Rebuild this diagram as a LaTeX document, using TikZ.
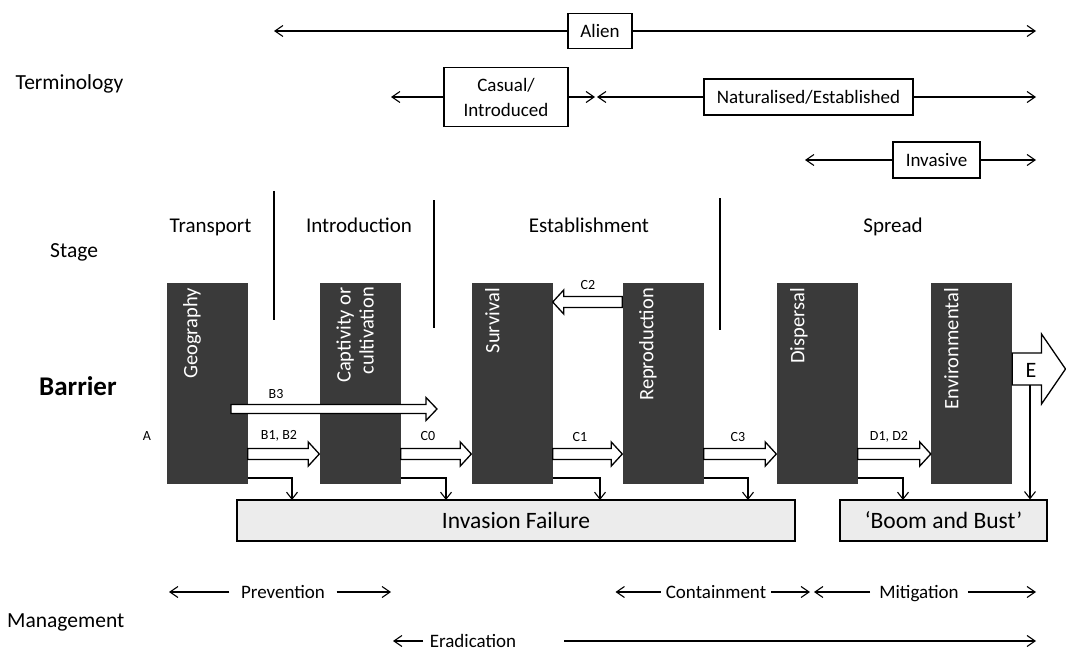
\documentclass[tikz,border=0pt]{standalone}
\usepackage{fontspec}
\setmainfont{Carlito}
\usetikzlibrary{arrows.meta,calc}
\definecolor{barfill}{RGB}{58,58,58}
\definecolor{failfill}{RGB}{236,236,236}
\newcommand\fs[2]{\fontsize{#1}{#2}\selectfont}
% hollow block arrow: #1 start, #2 tip, #3 signed head length, #4 body half, #5 head half
\newcommand\harrow[5]{%
  \draw[hollow] let \p1=(#1), \p2=(#2) in
    (\x1,{\y1+#4pt}) -- ({\x2-(#3pt)},{\y1+#4pt}) -- ({\x2-(#3pt)},{\y2+#5pt})
    -- (\x2,\y2) -- ({\x2-(#3pt)},{\y2-#5pt}) -- ({\x2-(#3pt)},{\y1-#4pt})
    -- (\x1,{\y1-#4pt}) -- cycle;}
\begin{document}
\begin{tikzpicture}[x=1pt,y=-1pt,
  rowlab/.style={inner sep=0pt, anchor=base west, font=\fs{21.5}{26}},
  term/.style={draw, line width=1.2pt, inner sep=0pt, font=\fs{19}{25}, align=center},
  tarr/.style={line width=1.1pt, -{Straight Barb[length=8pt,width=11pt,line width=1.1pt]}},
  stagel/.style={inner sep=0pt, anchor=base, font=\fs{21}{25}},
  divider/.style={line width=1.3pt},
  barrier/.style={fill=barfill, draw=none, minimum width=81pt, minimum height=201pt, inner sep=0pt},
  bartext/.style={text=white, rotate=90, inner sep=0pt, font=\fs{20.5}{23}, align=right},
  hollow/.style={draw, fill=white, line width=1.3pt, line join=miter},
  alab/.style={inner sep=0pt, font=\fs{14}{16}},
  darr/.style={line width=1.1pt, -{Straight Barb[length=7pt,width=11pt,line width=1.1pt]}},
  outbox/.style={draw, fill=failfill, line width=1.2pt, inner sep=0pt, font=\fs{23.5}{28}},
  mgmt/.style={inner sep=0pt, anchor=base, font=\fs{19}{23}},
]
\fill[white] (0,0) rectangle (1066,650);
\useasboundingbox (0,0) rectangle (1066,650);

% ---------- row labels ----------
\node[rowlab] (tTerm) at (15.5,90) {Terminology};
\node[rowlab] (tStage) at (50,257) {Stage};
\node[rowlab, font=\fs{27}{30}\bfseries] (tBarrier) at (39,395) {Barrier};
\node[rowlab] (tMan) at (7,627) {Management};

% ---------- terminology ----------
\node[term, minimum width=64pt, minimum height=35pt] (alien) at (600,31) {Alien};
\node[term, minimum width=124pt, minimum height=59pt] (casual) at (506,97) {Casual/\\Introduced};
\node[term, minimum width=209pt, minimum height=36pt] (nat) at (808.5,97) {Naturalised/Established};
\node[term, minimum width=87pt, minimum height=36pt] (inv) at (936.5,160) {Invasive};
\coordinate (alienL) at (274,31);
\coordinate (alienR) at (1036,31);
\coordinate (casL) at (391,97);
\coordinate (casR) at (595,97);
\coordinate (natL) at (597,97);
\coordinate (natR) at (1036,97);
\coordinate (invL) at (805,160);
\coordinate (invR) at (1036,160);
\draw[tarr] (alien.west) -- (alienL);
\draw[tarr] (alien.east) -- (alienR);
\draw[tarr] (casual.west) -- (casL);
\draw[tarr] (casual.east) -- (casR);
\draw[tarr] (nat.west) -- (natL);
\draw[tarr] (nat.east) -- (natR);
\draw[tarr] (inv.west) -- (invL);
\draw[tarr] (inv.east) -- (invR);

% ---------- stages ----------
\node[stagel] (sTrans) at (210.5,232) {Transport};
\node[stagel] (sIntro) at (359,232) {Introduction};
\node[stagel] (sEst) at (589,232) {Establishment};
\node[stagel] (sSpread) at (893,232) {Spread};
\coordinate (dv1t) at (274,191); \coordinate (dv1b) at (274,320);
\coordinate (dv2t) at (434,200); \coordinate (dv2b) at (434,328);
\coordinate (dv3t) at (720,198); \coordinate (dv3b) at (720,330);
\draw[divider] (dv1t) -- (dv1b);
\draw[divider] (dv2t) -- (dv2b);
\draw[divider] (dv3t) -- (dv3b);

% ---------- barriers ----------
\node[barrier] (geo)  at (207,383.5) {};
\node[barrier] (cap)  at (360,383.5) {};
\node[barrier] (surv) at (512,383.5) {};
\node[barrier] (repr) at (663,383.5) {};
\node[barrier] (disp) at (817,383.5) {};
\node[barrier] (env)  at (971.5,383.5) {};
\node[bartext, anchor=mid east] (geoT) at (195,288) {Geography};
\node[bartext, anchor=east] (capT) at (355,287) {Captivity or\\cultivation};
\node[bartext, anchor=mid east] (survT) at (497,288) {Survival};
\node[bartext, anchor=mid east] (reprT) at (651,288) {Reproduction};
\node[bartext, anchor=mid east] (dispT) at (802,288) {Dispersal};
\node[bartext, anchor=mid east] (envT) at (956,288) {Environmental};

\node[alab] (lA) at (147,436) {A};

% ---------- transition arrows ----------
\coordinate (rowB) at (0,454);
\coordinate (rowC) at (0,302);
\coordinate (rowE) at (0,369);
\coordinate (b3s) at (231,409);
\coordinate (b3e) at (437,409);
\coordinate (eTip) at (1065.5,369);
\harrow{b3s}{b3e}{11}{4.5}{11.5}
\harrow{geo.east |- rowB}{cap.west |- rowB}{11}{5.5}{12}
\harrow{cap.east |- rowB}{surv.west |- rowB}{11}{5.5}{12}
\harrow{surv.east |- rowB}{repr.west |- rowB}{11}{5.5}{12}
\harrow{repr.east |- rowB}{disp.west |- rowB}{11}{5.5}{12}
\harrow{disp.east |- rowB}{env.west |- rowB}{11}{5.5}{12}
\harrow{repr.west |- rowC}{surv.east |- rowC}{-11}{5.5}{12}
\harrow{env.east |- rowE}{eTip}{24}{16}{35}

\node[alab] (lB3) at (276,394) {B3};
\node[alab] (lB12) at (279,436) {B1, B2};
\node[alab] (lC0) at (428,436) {C0};
\node[alab] (lC1) at (580,437) {C1};
\node[alab] (lC2) at (588,285) {C2};
\node[alab] (lC3) at (738,437) {C3};
\node[alab] (lD12) at (889,437) {D1, D2};
\node[inner sep=0pt, font=\fs{22}{24}] (lE) at (1031,370) {E};

% ---------- outcome boxes ----------
\node[outbox, minimum width=558pt, minimum height=41pt] (fail) at (516,520.5) {Invasion Failure};
\node[outbox, minimum width=207pt, minimum height=41pt] (boom) at (943.5,520.5) {`Boom and Bust'};

\coordinate (rowF) at (0,478);
\coordinate (d1) at (292,500);
\coordinate (d2) at (446,500);
\coordinate (d3) at (600,500);
\coordinate (d4) at (748,500);
\coordinate (d5) at (903,500);
\coordinate (eDrop) at (1030,385);
\draw[darr] (geo.east |- rowF) -| (d1);
\draw[darr] (cap.east |- rowF) -| (d2);
\draw[darr] (surv.east |- rowF) -| (d3);
\draw[darr] (repr.east |- rowF) -| (d4);
\draw[darr] (disp.east |- rowF) -| (d5);
\draw[darr] (eDrop) -- (boom.north -| eDrop);

% ---------- management ----------
\coordinate (rowM1) at (0,592);
\coordinate (rowM2) at (0,641);
\node[mgmt, inner xsep=11.5pt] (prev) at (283,598) {Prevention};
\node[mgmt, inner xsep=5pt] (cont) at (716,598) {Containment};
\node[mgmt, inner xsep=9pt] (mitig) at (919,598) {Mitigation};
\node[mgmt, inner xsep=6.5pt] (erad) at (473,647) {Eradication};
\coordinate (prevL) at (169,592);
\coordinate (prevR) at (391,592);
\coordinate (contL) at (615.5,592);
\coordinate (contR) at (810,592);
\coordinate (mitL) at (814,592);
\coordinate (mitR) at (1036,592);
\coordinate (eradL) at (393,641);
\coordinate (eradS) at (564,641);
\coordinate (eradR) at (1036,641);
\draw[tarr] (prev.west |- rowM1) -- (prevL);
\draw[tarr] (prev.east |- rowM1) -- (prevR);
\draw[tarr] (cont.west |- rowM1) -- (contL);
\draw[tarr] (cont.east |- rowM1) -- (contR);
\draw[tarr] (mitig.west |- rowM1) -- (mitL);
\draw[tarr] (mitig.east |- rowM1) -- (mitR);
\draw[tarr] (erad.west |- rowM2) -- (eradL);
\draw[tarr] (eradS) -- (eradR);
\end{tikzpicture}
\end{document}
